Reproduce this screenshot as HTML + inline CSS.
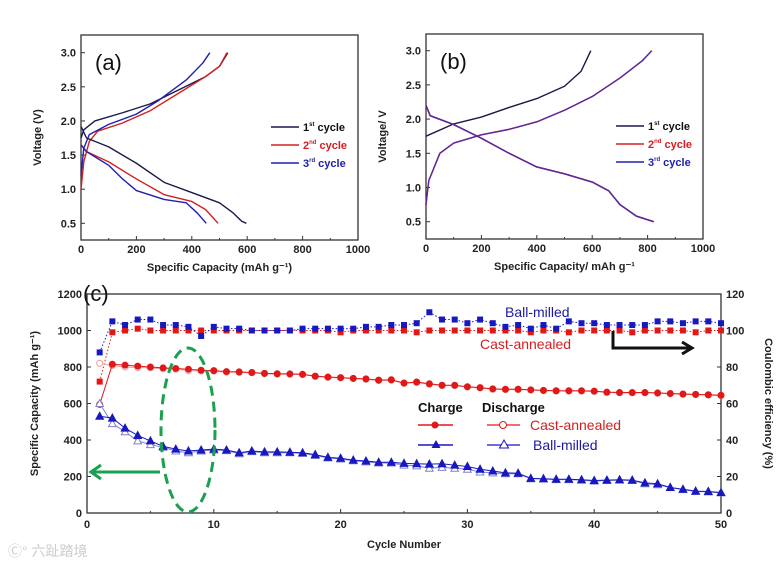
<!DOCTYPE html>
<html><head><meta charset="utf-8"><style>
body{margin:0;background:#fff;}
svg{display:block;font-family:"Liberation Sans",Arial,sans-serif;}
.t{font-size:11px;font-weight:bold;fill:#222;}
</style></head><body>
<svg id="s" width="780" height="565" viewBox="0 0 780 565" xmlns="http://www.w3.org/2000/svg"></svg>
<script>
// Panel (a) data: [capacity, voltage]
const aCh1=[[0,1.75],[10,1.87],[50,2.0],[150,2.12],[250,2.25],[350,2.45],[450,2.65],[500,2.8],[530,3.0]];
const aCh2=[[0,1.0],[10,1.4],[30,1.7],[60,1.85],[150,1.97],[250,2.15],[350,2.4],[450,2.65],[500,2.8],[527,3.0]];
const aCh3=[[0,1.2],[10,1.6],[30,1.8],[100,1.95],[200,2.1],[280,2.3],[380,2.6],[440,2.85],[465,3.0]];
const aDis1=[[0,1.92],[20,1.75],[100,1.62],[200,1.38],[300,1.1],[400,0.95],[500,0.8],[550,0.65],[580,0.53],[597,0.5]];
const aDis2=[[0,1.65],[20,1.55],[100,1.4],[200,1.15],[300,0.92],[400,0.82],[450,0.7],[495,0.5]];
const aDis3=[[0,1.65],[20,1.55],[100,1.35],[150,1.15],[200,0.98],[300,0.85],[380,0.8],[420,0.65],[452,0.5]];
// Panel (b)
const bCh1=[[0,1.75],[100,1.93],[200,2.03],[300,2.17],[400,2.3],[500,2.48],[560,2.7],[595,3.0]];
const bCh2=[[0,0.75],[10,1.1],[50,1.5],[100,1.65],[200,1.77],[300,1.85],[400,1.96],[500,2.13],[600,2.33],[700,2.6],[780,2.85],[815,3.0]];
const bDis=[[0,2.2],[15,2.05],[100,1.92],[200,1.72],[300,1.5],[400,1.3],[500,1.2],[600,1.08],[660,0.95],[700,0.75],[760,0.58],[822,0.5]];
// Panel (c)
const cycles=Array.from({length:50},(_,i)=>i+1);
const castCharge=[595,815,810,805,800,795,792,788,782,780,775,773,770,765,763,762,760,750,745,742,738,735,728,730,712,718,708,700,700,692,687,680,678,678,675,672,670,670,670,668,662,660,660,660,658,655,652,650,648,645];
const castDis=[820,808,800,797,795,790,788,780,778,777,772,770,768,763,760,760,758,748,743,740,736,732,726,727,710,715,705,698,698,690,685,678,676,676,673,670,668,668,668,666,660,658,658,658,656,653,650,648,646,643];
const ballCharge=[530,520,465,425,395,365,350,340,345,350,345,330,340,335,335,333,330,320,305,300,290,285,278,278,272,270,268,270,262,255,240,230,220,218,190,188,185,185,182,178,180,182,180,165,160,140,130,120,118,112];
const ballDis=[600,490,445,395,375,360,340,330,340,345,342,325,336,330,330,330,327,315,302,296,286,280,274,274,262,258,245,250,245,240,225,220,215,215,188,186,183,183,180,175,178,180,178,160,155,140,128,118,116,110];
const ceBall=[88,105,103,106,106,103,103,102,97,102,101,101,100,100,100,100,101,101,101,101,101,102,102,103,103,104,110,106,106,104,106,104,102,103,101,103,101,105,104,104,103,103,103,103,105,105,104,105,105,104];
const ceCast=[72,99,100,101,100,100,100,100,100,100,100,100,100,100,100,100,100,100,100,99,100,100,100,100,100,99,100,100,100,100,100,100,100,100,99,100,100,99,100,100,100,100,99,100,100,100,100,99,100,100];

const NS="http://www.w3.org/2000/svg", svg=document.getElementById('s');
function el(tag,attrs,parent,text){const e=document.createElementNS(NS,tag);for(const k in attrs)e.setAttribute(k,attrs[k]);if(text!==undefined)e.textContent=text;(parent||svg).appendChild(e);return e;}

function panelAB(id,L,R,T,B,y3,y05,ylabel,xlabel,series){
  const g=el('g',{});
  
  
  const X=c=>L+(R-L)*c/1000, Y=v=>y05-(v-0.5)*(y05-y3)/2.5;
  const box=el('rect',{x:L,y:T,width:R-L,height:B-T,fill:'none',stroke:'#333','stroke-width':1.3},g);
  
  [0,200,400,600,800,1000].forEach(c=>{
    el('line',{x1:X(c),x2:X(c),y1:B,y2:B-4,stroke:'#333'},g);
    if(c<1000)el('line',{x1:X(c+100),x2:X(c+100),y1:B,y2:B-2,stroke:'#333'},g);
    const t=el('text',{x:X(c),y:B+13,'text-anchor':'middle',class:'t'},g,c);
    
  });
  [0.5,1,1.5,2,2.5,3].forEach(v=>{
    el('line',{x1:L,x2:L+4,y1:Y(v),y2:Y(v),stroke:'#333'},g);
    const t=el('text',{x:L-5,y:Y(v)+4,'text-anchor':'end',class:'t'},g,v.toFixed(1));
    
  });
  const xl=el('text',{x:(L+R)/2,y:B+31,'text-anchor':'middle',class:'t'},g,xlabel);
  
  const yl=el('text',{x:0,y:0,transform:`translate(${L-40},${(T+B)/2}) rotate(-90)`,'text-anchor':'middle',class:'t','font-size':'12.5px'},g,ylabel);
  
  const pl=el('text',{x:L+14,y:T+35,'font-size':'22px',fill:'#111'},g,'('+id+')');
  
  series.forEach(s=>{
    const p=el('polyline',{points:s.d.map(q=>X(q[0])+','+Y(q[1])).join(' '),fill:'none',stroke:s.c,'stroke-width':1.4,'stroke-linejoin':'round'},g);
    
  });
  const lx=L+190, ly=T+92;
  [['1','st','#1a1a4a','#111'],['2','nd','#d42020','#d42020'],['3','rd','#2020b0','#2020b0']].forEach((r,i)=>{
    const yy=ly+i*18;
    el('line',{x1:lx,x2:lx+28,y1:yy,y2:yy,stroke:r[2],'stroke-width':1.5},g);
    const t=el('text',{x:lx+32,y:yy+4,class:'t',style:'fill:'+r[3]},g);
    
    el('tspan',{},t,r[0]);el('tspan',{dy:-5,'font-size':'6px'},t,r[1]);el('tspan',{dy:5},t,' cycle');
  });
}
panelAB('a',81,358,35,240,52.7,223.3,'Voltage (V)','Specific Capacity (mAh g\u207B\u00B9)',[
 {n:'c1-charge',d:aCh1,c:'#1a1a4a'},{n:'c2-charge',d:aCh2,c:'#d42020'},{n:'c3-charge',d:aCh3,c:'#2020b0'},
 {n:'c1-discharge',d:aDis1,c:'#1a1a4a'},{n:'c2-discharge',d:aDis2,c:'#d42020'},{n:'c3-discharge',d:aDis3,c:'#2020b0'}]);
panelAB('b',426,703,34,239,50.7,221.7,'Voltage/ V','Specific Capacity/ mAh g\u207B\u00B9',[
 {n:'c1-charge',d:bCh1,c:'#1a1a4a'},{n:'c2-charge',d:bCh2,c:'#d42020'},{n:'c3-charge',d:bCh2,c:'#5a2aa0'},
 {n:'c1-discharge',d:bDis,c:'#1a1a4a'},{n:'c2-discharge',d:bDis,c:'#d42020'},{n:'c3-discharge',d:bDis,c:'#5a2aa0'}]);

// Panel c
const L=87,R=721,T=294,B=513;
const X=n=>L+(R-L)*n/50, Y=v=>B-(B-T)*v/1200, Y2=v=>B-(B-T)*v/120;
const gc=el('g',{});

const fr=el('rect',{x:L,y:T,width:R-L,height:B-T,fill:'none',stroke:'#333','stroke-width':1.3},gc);

[0,10,20,30,40,50].forEach(n=>{
  el('line',{x1:X(n),x2:X(n),y1:B,y2:B-4,stroke:'#333'},gc);
  if(n<50)el('line',{x1:X(n+5),x2:X(n+5),y1:B,y2:B-2,stroke:'#333'},gc);
  const t=el('text',{x:X(n),y:B+15,'text-anchor':'middle',class:'t'},gc,n);
  
});
[0,200,400,600,800,1000,1200].forEach(v=>{
  el('line',{x1:L,x2:L+4,y1:Y(v),y2:Y(v),stroke:'#333'},gc);
  el('line',{x1:R,x2:R-4,y1:Y(v),y2:Y(v),stroke:'#333'},gc);
  const t=el('text',{x:L-5,y:Y(v)+4,'text-anchor':'end',class:'t'},gc,v);
  
  const t2=el('text',{x:R+5,y:Y(v)+4,class:'t'},gc,v/10);
  
});
let tt=el('text',{x:(L+R)/2,y:B+35,'text-anchor':'middle',class:'t','font-size':'12px'},gc,'Cycle Number');

tt=el('text',{transform:`translate(38,${(T+B)/2}) rotate(-90)`,'text-anchor':'middle',class:'t','font-size':'12.5px'},gc,'Specific Capacity (mAh g\u207B\u00B9)');

tt=el('text',{transform:`translate(765,${(T+B)/2}) rotate(90)`,'text-anchor':'middle',class:'t','font-size':'12.5px'},gc,'Coulombic efficiency (%)');

tt=el('text',{x:83,y:301,'font-size':'22px',fill:'#111'},gc,'(c)');


function marker(shape,x,y,c,filled,name){
  let m;
  if(shape==='sq') m=el('rect',{x:x-3,y:y-3,width:6,height:6,fill:c},gc);
  else if(shape==='ci') m=el('circle',{cx:x,cy:y,r:3,fill:filled?c:'#fff',stroke:c,'stroke-width':1},gc);
  else m=el('polygon',{points:`${x},${y-4} ${x+3.8},${y+3} ${x-3.8},${y+3}`,fill:filled?c:'#fff',stroke:c,'stroke-width':1},gc);
  
}
function series(vals,yf,c,shape,filled,name,dash){
  const p=el('polyline',{points:vals.map((v,i)=>X(cycles[i])+','+yf(v)).join(' '),fill:'none',stroke:c,'stroke-width':1,'stroke-dasharray':dash||'none'},gc);
  
  vals.forEach((v,i)=>marker(shape,X(cycles[i]),yf(v),c,filled,name+'-point'));
}
series(ceCast,Y2,'#e01818','sq',true,'ce-cast','1.5,2');
series(ceBall,Y2,'#1818c0','sq',true,'ce-ball','1.5,2');
series(castDis,Y,'#e8a0a0','ci',false,'cast-discharge');
series(castCharge,Y,'#e01818','ci',true,'cast-charge');
series(ballDis,Y,'#8080d0','tr',false,'ball-discharge');
series(ballCharge,Y,'#1818c0','tr',true,'ball-charge');

// annotations
tt=el('text',{x:505,y:317,'font-size':'14px',fill:'#1a1aa0'},gc,'Ball-milled');

tt=el('text',{x:480,y:349,'font-size':'14px',fill:'#d42020'},gc,'Cast-annealed');

let a=el('path',{d:'M613,331 V348 H690 M682,342 L692,348 L682,354',fill:'none',stroke:'#111','stroke-width':3},gc);

a=el('path',{d:'M160,472 H92 M101,465 L91,472 L101,479',fill:'none',stroke:'#1aa050','stroke-width':3},gc);

a=el('ellipse',{cx:188,cy:430,rx:27,ry:82,fill:'none',stroke:'#1aa050','stroke-width':3,'stroke-dasharray':'10,6'},gc);

// legend
const lg=el('g',{},gc);

el('text',{x:418,y:412,'font-size':'13px','font-weight':'bold',fill:'#111'},lg,'Charge');
el('text',{x:482,y:412,'font-size':'13px','font-weight':'bold',fill:'#111'},lg,'Discharge');
el('line',{x1:418,x2:453,y1:425,y2:425,stroke:'#e01818','stroke-width':1.5},lg);
el('circle',{cx:435,cy:425,r:3.5,fill:'#e01818'},lg);
el('line',{x1:487,x2:520,y1:425,y2:425,stroke:'#e01818','stroke-width':1.2},lg);
el('circle',{cx:503,cy:425,r:3.5,fill:'#fff',stroke:'#e01818'},lg);
let le=el('text',{x:530,y:430,'font-size':'14px',fill:'#d42020'},lg,'Cast-annealed');

el('line',{x1:418,x2:453,y1:445,y2:445,stroke:'#1818c0','stroke-width':1.5},lg);
el('polygon',{points:'436,440 440.5,448 431.5,448',fill:'#1818c0'},lg);
el('line',{x1:487,x2:520,y1:445,y2:445,stroke:'#1818c0','stroke-width':1.2},lg);
el('polygon',{points:'504,440 508.5,448 499.5,448',fill:'#fff',stroke:'#1818c0'},lg);
le=el('text',{x:533,y:450,'font-size':'14px',fill:'#1a1aa0'},lg,'Ball-milled');

// watermark
const wm=el('text',{x:8,y:556,'font-size':'14px',fill:'#ccc','font-family':'"Liberation Sans","Noto Sans CJK SC",sans-serif'},svg,'\u24B8\u00B0 六趾踏境');

</script>
</body></html>
